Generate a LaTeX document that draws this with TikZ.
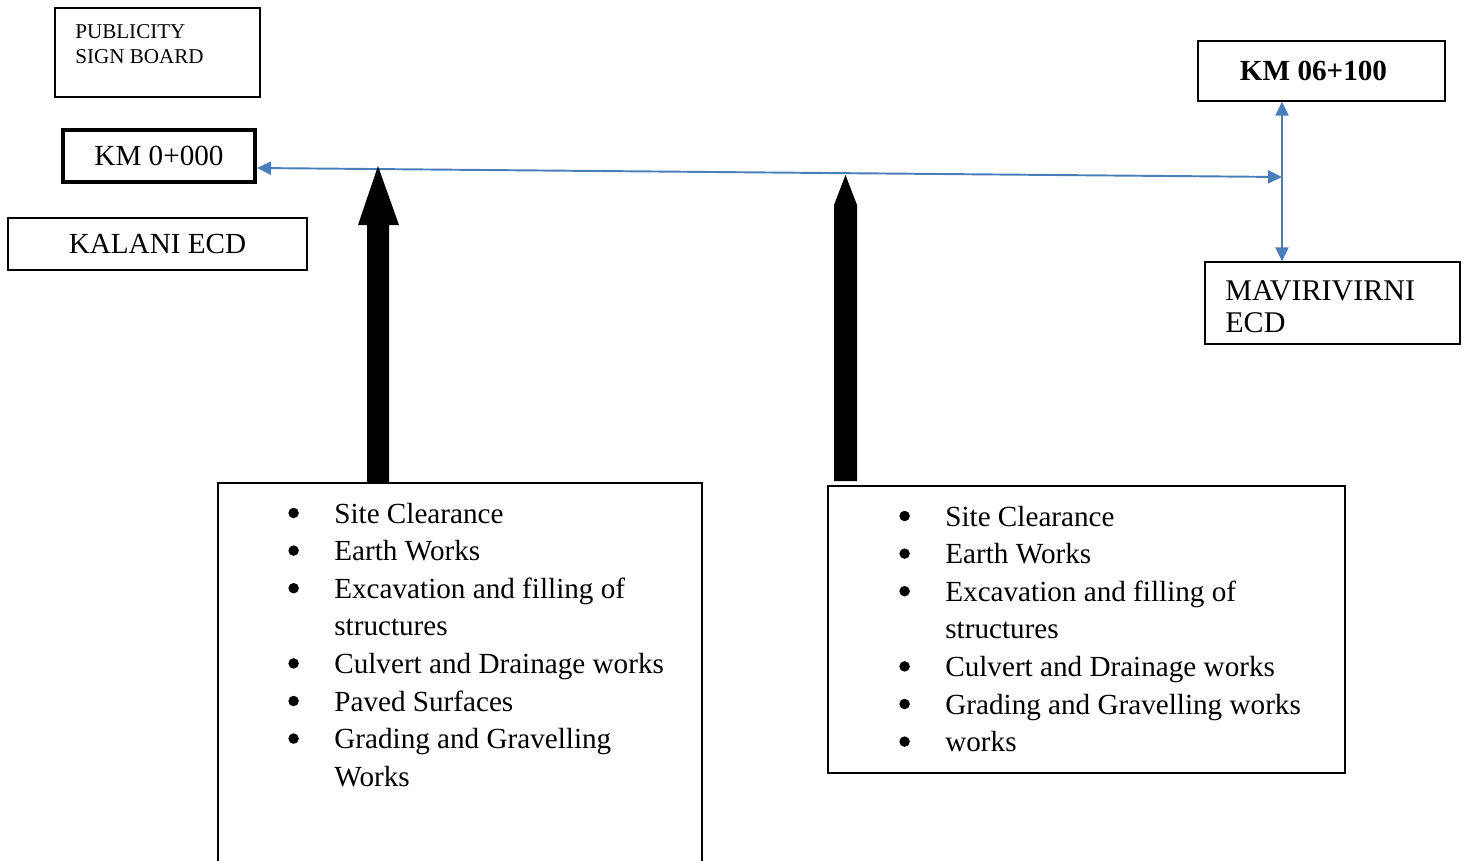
\documentclass[tikz,border=0pt]{standalone}
\usepackage{fontspec}
\setmainfont{Liberation Serif}
\usepackage{tikz}
\usetikzlibrary{positioning,arrows.meta,calc}
\definecolor{roadblue}{HTML}{4A7EBB}
\newcommand{\listdot}{\tikz[baseline=0pt]\fill (0.1cm,0.2cm) circle (0.105cm);}

\begin{document}
\begin{tikzpicture}[x=0.02cm, y=-0.02cm,
        plainbox/.style={rectangle, draw, line width=0.7pt, inner sep=0pt,
          font=\fontsize{16.6}{18}\selectfont},
        chainbox/.style={plainbox, line width=2.3pt},
        listbox/.style={rectangle, draw, line width=0.7pt, inner sep=0pt},
        listtext/.style={inner sep=0pt, anchor=base west,
          font=\fontsize{16.6}{21.4}\selectfont},
        roadarr/.style={draw=roadblue, line width=1.1pt,
          {Triangle[length=0.28cm, width=0.26cm]}-{Triangle[length=0.28cm, width=0.26cm]}},
      ]
      \useasboundingbox (0,0) rectangle (1465,860);
      \clip (0,0) rectangle (1465,860);

      \node[plainbox, minimum width=4.1cm, minimum height=1.78cm] (signboard) at (157.5,52.5) {};
      \node[inner sep=0pt, anchor=north west, align=left,
        font=\fontsize{12}{14.2}\selectfont] (signtext) at (75,24) {PUBLICITY\\SIGN BOARD};

      \node[chainbox, minimum width=3.84cm, minimum height=1.04cm] (kmstart) at (159,156) {KM 0+000};
      \node[plainbox, minimum width=5.98cm, minimum height=1.04cm] (kalani) at (157.5,244) {KALANI ECD};

      \node[plainbox, minimum width=4.94cm, minimum height=1.2cm,
        font=\fontsize{16.6}{18}\selectfont\bfseries] (kmend) at (1321.5,71) {KM 06+100\hspace*{0.32cm}};
      \node[plainbox, minimum width=5.1cm, minimum height=1.64cm] (mavi) at (1332.5,303) {};
      \node[inner sep=0pt, anchor=north west, align=left,
        font=\fontsize{17.1}{18.2}\selectfont] (mavitext) at (1225,280) {MAVIRIVIRNI\\ECD};

      \coordinate (junction) at (1282,177);
      \draw[roadarr] ([yshift=-0.24cm]kmstart.east) -- (junction);
      \draw[roadarr] (kmend.south -| junction) -- (mavi.north -| junction);

      \node[listbox, minimum width=9.68cm, minimum height=8.4cm] (leftlist) at (460,693) {};
      \node[listbox, minimum width=10.34cm, minimum height=5.74cm] (rightlist) at (1086.5,629.5) {};

      \fill (367,483) -- (367,225) -- (358,225) -- (378,166) -- (399,225)
        -- (389,225) -- (389,483) -- cycle;
      \fill (834,481) -- (834,205) -- (845.5,175) -- (857,205) -- (857,481) -- cycle;

      \node[listtext] (leftitems) at (288,523) {%
        \begin{tabular}[t]{@{}p{0.92cm}@{}l@{}}
          \listdot & Site Clearance\\
          \listdot & Earth Works\\
          \listdot & Excavation and filling of\\
                   & structures\\
          \listdot & Culvert and Drainage works\\
          \listdot & Paved Surfaces\\
          \listdot & Grading and Gravelling\\
                   & Works
        \end{tabular}};

      \node[listtext] (rightitems) at (899,526) {%
        \begin{tabular}[t]{@{}p{0.92cm}@{}l@{}}
          \listdot & Site Clearance\\
          \listdot & Earth Works\\
          \listdot & Excavation and filling of\\
                   & structures\\
          \listdot & Culvert and Drainage works\\
          \listdot & Grading and Gravelling works\\
          \listdot & works
        \end{tabular}};
    \end{tikzpicture}
\end{document}
